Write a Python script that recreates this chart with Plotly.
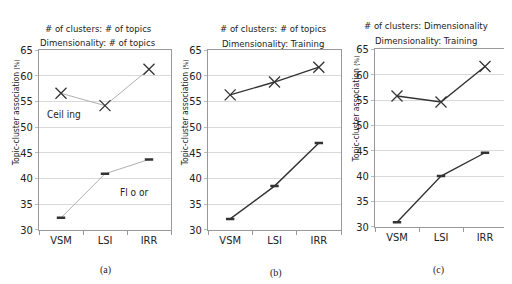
import plotly.graph_objects as go

methods = ["VSM", "LSI", "IRR"]
ceil_a = [56.6, 54.2, 61.3]
floor_a = [32.3, 40.9, 43.7]
ceil_b = [56.3, 58.8, 61.7]
floor_b = [32.1, 38.5, 46.9]
ceil_c = [55.8, 54.6, 61.6]
floor_c = [30.9, 40.0, 44.6]
titles = [("# of clusters: # of topics", "Dimensionality: # of topics"),
          ("# of clusters: # of topics", "Dimensionality: Training"),
          ("# of clusters: Dimensionality", "Dimensionality: Training")]
panel_labels = ["(a)", "(b)", "(c)"]
y_ticks = [30, 35, 40, 45, 50, 55, 60, 65]

W, H = 512, 284
FONT = "DejaVu Sans Condensed, Liberation Sans Narrow, Liberation Sans, sans-serif"

# plot area pixel boxes (left, right, top, bottom)
boxes = [(31, 163, 38, 226), (200, 333, 38, 226), (367, 499, 37, 223)]
line_colors = ["#b0b0b0", "#333333", "#333333"]
line_widths = [1, 1.4, 1.4]
data = [(ceil_a, floor_a), (ceil_b, floor_b), (ceil_c, floor_c)]

fig = go.Figure()
annotations = []
for i, ((l, r, t, b), (ce, fl)) in enumerate(zip(boxes, data)):
    n = "" if i == 0 else str(i + 1)
    xa, ya = "x" + n, "y" + n
    fig.add_trace(go.Scatter(x=methods, y=ce, mode="lines+markers", xaxis=xa, yaxis=ya,
                             line=dict(color=line_colors[i], width=line_widths[i]),
                             marker=dict(symbol="x-thin", size=11, line=dict(color="#333333", width=1.3)),
                             showlegend=False))
    fig.add_trace(go.Scatter(x=methods, y=fl, mode="lines+markers", xaxis=xa, yaxis=ya,
                             line=dict(color=line_colors[i], width=line_widths[i]),
                             marker=dict(symbol="line-ew", size=6, line=dict(color="#333333", width=2.5)),
                             showlegend=False))
    fig.layout["xaxis" + n] = dict(domain=[l / W, r / W], anchor=ya, type="category",
                                   categoryorder="array", categoryarray=methods,
                                   range=[-0.5, 2.5], tickson="boundaries", ticks="outside",
                                   ticklen=4, tickcolor="#999999", showgrid=False,
                                   showline=True, linecolor="#999999", mirror=True,
                                   tickfont=dict(family=FONT, size=11, color="#222222"))
    fig.layout["yaxis" + n] = dict(domain=[1 - b / H, 1 - t / H], anchor=xa, range=[30, 65],
                                   tickvals=y_ticks, ticks="outside", ticklen=3,
                                   tickcolor="#bbbbbb", showgrid=True, gridcolor="#d9d9d9",
                                   showline=True, linecolor="#999999", mirror=True,
                                   zeroline=False,
                                   tickfont=dict(family=FONT, size=11, color="#222222"))
    cx = [90, 265, 418][i]
    ty = [(15, 30), (15, 31), (12, 28)][i]
    for txt, yy in zip(titles[i], ty):
        annotations.append(dict(text=txt, x=cx / W, y=1 - yy / H, xref="paper", yref="paper",
                                showarrow=False, xanchor="center", yanchor="middle",
                                font=dict(family=FONT, size=9.5, color="#222222")))
    yt = [(8, 104), (177, 104), (348, 100)][i]
    annotations.append(dict(text="Topic-cluster association <span style='font-size:6.5px'>(%)</span>",
                            x=yt[0] / W, y=1 - yt[1] / H, xref="paper", yref="paper",
                            showarrow=False, textangle=-90, xanchor="center", yanchor="middle",
                            font=dict(family=FONT, size=8.5, color="#222222")))
    pl = [(97, 268), (268, 271), (430, 268)][i]
    annotations.append(dict(text=panel_labels[i], x=pl[0] / W, y=1 - pl[1] / H, xref="paper",
                            yref="paper", showarrow=False, xanchor="center", yanchor="middle",
                            font=dict(family="Liberation Serif, serif", size=10, color="#222222")))

annotations.append(dict(text="Ceil ing", x=37 / W, y=1 - 105 / H, xref="paper", yref="paper",
                        showarrow=False, xanchor="left", yanchor="middle",
                        font=dict(family=FONT, size=10, color="#222222")))
annotations.append(dict(text="Fl o or", x=110 / W, y=1 - 187 / H, xref="paper", yref="paper",
                        showarrow=False, xanchor="left", yanchor="middle",
                        font=dict(family=FONT, size=10, color="#222222")))

fig.update_layout(width=W, height=H, margin=dict(l=0, r=0, t=0, b=0),
                  paper_bgcolor="white", plot_bgcolor="white",
                  annotations=annotations)
fig.write_html("out.html")
